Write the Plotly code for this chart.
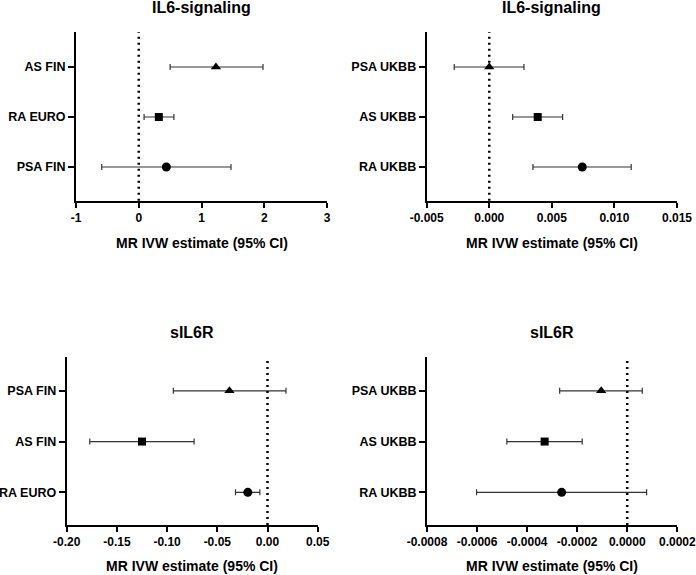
import plotly.graph_objects as go

# ---------------- data ----------------
titles = ["IL6-signaling", "IL6-signaling", "sIL6R", "sIL6R"]
xlabel = "MR IVW estimate (95% CI)"

# rows listed top -> bottom
p1_labels = ["AS FIN", "RA EURO", "PSA FIN"]
p1_est = [1.23, 0.32, 0.44]
p1_lo = [0.50, 0.085, -0.59]
p1_hi = [1.98, 0.56, 1.47]

p2_labels = ["PSA UKBB", "AS UKBB", "RA UKBB"]
p2_est = [0.0000, 0.00387, 0.00743]
p2_lo = [-0.0028, 0.00187, 0.00349]
p2_hi = [0.00277, 0.00586, 0.01134]

p3_labels = ["PSA FIN", "AS FIN", "RA EURO"]
p3_est = [-0.0379, -0.125, -0.0196]
p3_lo = [-0.0938, -0.177, -0.0319]
p3_hi = [0.0184, -0.0731, -0.0076]

p4_labels = ["PSA UKBB", "AS UKBB", "RA UKBB"]
p4_est = [-0.000104, -0.00033, -0.000262]
p4_lo = [-0.00027, -0.000481, -0.000602]
p4_hi = [0.00006, -0.00018, 0.0000774]

p1_ticks = [-1, 0, 1, 2, 3]
p1_ticktext = ["-1", "0", "1", "2", "3"]
p2_ticks = [-0.005, 0.0, 0.005, 0.010, 0.015]
p2_ticktext = ["-0.005", "0.000", "0.005", "0.010", "0.015"]
p3_ticks = [-0.20, -0.15, -0.10, -0.05, 0.0, 0.05]
p3_ticktext = ["-0.20", "-0.15", "-0.10", "-0.05", "0.00", "0.05"]
p4_ticks = [-0.0008, -0.0006, -0.0004, -0.0002, 0.0, 0.0002]
p4_ticktext = ["-0.0008", "-0.0006", "-0.0004", "-0.0002", "0.0000", "0.0002"]

symbols = ["triangle-up", "square", "circle"]
sizes = [9, 8, 9]

W, H = 696, 575
FONT = "Liberation Sans, Arial, sans-serif"

panels = [
    dict(labels=p1_labels, est=p1_est, lo=p1_lo, hi=p1_hi, ticks=p1_ticks, tt=p1_ticktext,
         xr=[-1, 3], px=(76, 327), py=(32, 200.7), yr=[0.326, 3.7]),
    dict(labels=p2_labels, est=p2_est, lo=p2_lo, hi=p2_hi, ticks=p2_ticks, tt=p2_ticktext,
         xr=[-0.005, 0.015], px=(426.7, 677), py=(32, 200.7), yr=[0.326, 3.7]),
    dict(labels=p3_labels, est=p3_est, lo=p3_lo, hi=p3_hi, ticks=p3_ticks, tt=p3_ticktext,
         xr=[-0.20, 0.05], px=(66.7, 317.7), py=(357.3, 525), yr=[0.356, 3.66]),
    dict(labels=p4_labels, est=p4_est, lo=p4_lo, hi=p4_hi, ticks=p4_ticks, tt=p4_ticktext,
         xr=[-0.0008, 0.0002], px=(427, 677.3), py=(357.3, 525), yr=[0.356, 3.66]),
]

fig = go.Figure()
annotations = []
shapes = []
layout_axes = {}

for i, p in enumerate(panels):
    n = i + 1
    xa = "x" if n == 1 else f"x{n}"
    ya = "y" if n == 1 else f"y{n}"
    ypos = [3, 2, 1]
    for j in range(3):
        fig.add_trace(go.Scatter(
            x=[p["est"][j]], y=[ypos[j]], xaxis=xa, yaxis=ya, mode="markers",
            marker=dict(symbol=symbols[j], size=sizes[j], color="black"),
            error_x=dict(type="data", symmetric=False,
                         array=[p["hi"][j] - p["est"][j]],
                         arrayminus=[p["est"][j] - p["lo"][j]],
                         color="#333333", thickness=1.2, width=3),
            showlegend=False, hoverinfo="skip", cliponaxis=False))
    xd = [p["px"][0] / W, p["px"][1] / W]
    yd = [1 - p["py"][1] / H, 1 - p["py"][0] / H]
    axkey = "xaxis" if n == 1 else f"xaxis{n}"
    aykey = "yaxis" if n == 1 else f"yaxis{n}"
    layout_axes[axkey] = dict(
        domain=xd, range=p["xr"], anchor=ya, tickvals=p["ticks"], ticktext=p["tt"],
        showgrid=False, zeroline=False, showline=True, linecolor="black", linewidth=2,
        ticks="outside", ticklen=5, tickwidth=2, tickcolor="black", automargin=False,
        tickfont=dict(size=12, color="black", family=FONT, weight="bold"),
        fixedrange=True)
    layout_axes[aykey] = dict(
        domain=yd, range=p["yr"], anchor=xa, tickvals=ypos, ticktext=p["labels"],
        showgrid=False, zeroline=False, showline=True, linecolor="black", linewidth=2,
        ticks="outside", ticklen=6, tickwidth=2, tickcolor="black", automargin=False,
        tickfont=dict(size=12.5, color="black", family=FONT, weight="bold"),
        fixedrange=True)
    shapes.append(dict(type="line", xref=xa, yref=f"{ya} domain", x0=0, x1=0, y0=0, y1=1,
                       line=dict(color="black", width=2.5, dash="2px,4px")))
    cx = (xd[0] + xd[1]) / 2
    # subplot title
    title_y = 7.5 if i < 2 else 332
    annotations.append(dict(text=titles[i], x=cx, y=1 - title_y / H, xref="paper", yref="paper",
                            showarrow=False, xanchor="center", yanchor="middle",
                            font=dict(size=16, color="black", family=FONT, weight="bold")))
    xt_y = 243 if i < 2 else 566
    annotations.append(dict(text=xlabel, x=cx, y=1 - xt_y / H, xref="paper", yref="paper",
                            showarrow=False, xanchor="center", yanchor="middle",
                            font=dict(size=14, color="black", family=FONT, weight="bold")))

fig.update_layout(
    width=W, height=H, margin=dict(l=0, r=0, t=0, b=0, autoexpand=False),
    paper_bgcolor="white", plot_bgcolor="white",
    font=dict(family=FONT, color="black"),
    annotations=annotations, shapes=shapes, **layout_axes)

fig.write_html("out.html", config={"displayModeBar": False},
               post_script="document.body.style.margin='0px';document.body.style.overflow='hidden';")
